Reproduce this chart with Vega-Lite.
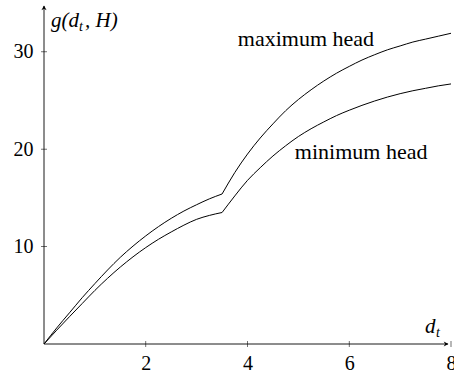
{
  "$schema": "https://vega.github.io/schema/vega-lite/v6.json",
  "autosize": "none",
  "width": 407,
  "height": 338,
  "padding": {"left": 44, "top": 6, "right": 3, "bottom": 28},
  "background": "white",
  "config": {
    "font": "Liberation Serif",
    "view": {"stroke": null},
    "axis": {"domain": false, "ticks": false, "grid": false, "labelFont": "Liberation Serif", "labelFontSize": 20, "labelColor": "black", "title": null}
  },
  "datasets": {
    "curves": [
      {"series": "max1", "x": 0, "g": 0},
      {"series": "max1", "x": 0.25, "g": 1.65},
      {"series": "max1", "x": 0.5, "g": 3.2},
      {"series": "max1", "x": 0.75, "g": 4.75},
      {"series": "max1", "x": 1, "g": 6.2},
      {"series": "max1", "x": 1.25, "g": 7.6},
      {"series": "max1", "x": 1.5, "g": 8.9},
      {"series": "max1", "x": 1.75, "g": 10.05},
      {"series": "max1", "x": 2, "g": 11.1},
      {"series": "max1", "x": 2.25, "g": 12.05},
      {"series": "max1", "x": 2.5, "g": 12.9},
      {"series": "max1", "x": 2.75, "g": 13.65},
      {"series": "max1", "x": 3, "g": 14.3},
      {"series": "max1", "x": 3.25, "g": 14.9},
      {"series": "max1", "x": 3.5, "g": 15.4},
      {"series": "max2", "x": 3.5, "g": 15.4},
      {"series": "max2", "x": 3.75, "g": 17.6},
      {"series": "max2", "x": 4, "g": 19.5},
      {"series": "max2", "x": 4.25, "g": 21.15},
      {"series": "max2", "x": 4.5, "g": 22.6},
      {"series": "max2", "x": 4.75, "g": 23.95},
      {"series": "max2", "x": 5, "g": 25.1},
      {"series": "max2", "x": 5.25, "g": 26.1},
      {"series": "max2", "x": 5.5, "g": 27.0},
      {"series": "max2", "x": 5.75, "g": 27.8},
      {"series": "max2", "x": 6, "g": 28.5},
      {"series": "max2", "x": 6.25, "g": 29.15},
      {"series": "max2", "x": 6.5, "g": 29.7},
      {"series": "max2", "x": 6.75, "g": 30.2},
      {"series": "max2", "x": 7, "g": 30.6},
      {"series": "max2", "x": 7.25, "g": 31.0},
      {"series": "max2", "x": 7.5, "g": 31.3},
      {"series": "max2", "x": 7.75, "g": 31.6},
      {"series": "max2", "x": 8, "g": 31.9},
      {"series": "min1", "x": 0, "g": 0},
      {"series": "min1", "x": 0.25, "g": 1.42},
      {"series": "min1", "x": 0.5, "g": 2.8},
      {"series": "min1", "x": 0.75, "g": 4.15},
      {"series": "min1", "x": 1, "g": 5.5},
      {"series": "min1", "x": 1.25, "g": 6.75},
      {"series": "min1", "x": 1.5, "g": 7.9},
      {"series": "min1", "x": 1.75, "g": 8.95},
      {"series": "min1", "x": 2, "g": 9.9},
      {"series": "min1", "x": 2.25, "g": 10.75},
      {"series": "min1", "x": 2.5, "g": 11.5},
      {"series": "min1", "x": 2.75, "g": 12.2},
      {"series": "min1", "x": 3, "g": 12.8},
      {"series": "min1", "x": 3.25, "g": 13.2},
      {"series": "min1", "x": 3.5, "g": 13.5},
      {"series": "min2", "x": 3.5, "g": 13.5},
      {"series": "min2", "x": 3.75, "g": 15.2},
      {"series": "min2", "x": 4, "g": 16.8},
      {"series": "min2", "x": 4.25, "g": 18.1},
      {"series": "min2", "x": 4.5, "g": 19.3},
      {"series": "min2", "x": 4.75, "g": 20.35},
      {"series": "min2", "x": 5, "g": 21.3},
      {"series": "min2", "x": 5.25, "g": 22.1},
      {"series": "min2", "x": 5.5, "g": 22.8},
      {"series": "min2", "x": 5.75, "g": 23.45},
      {"series": "min2", "x": 6, "g": 24.0},
      {"series": "min2", "x": 6.25, "g": 24.5},
      {"series": "min2", "x": 6.5, "g": 24.95},
      {"series": "min2", "x": 6.75, "g": 25.35},
      {"series": "min2", "x": 7, "g": 25.7},
      {"series": "min2", "x": 7.25, "g": 26.0},
      {"series": "min2", "x": 7.5, "g": 26.25},
      {"series": "min2", "x": 7.75, "g": 26.5},
      {"series": "min2", "x": 8, "g": 26.7}
    ],
    "xticks": [{"t": 2}, {"t": 4}, {"t": 6}, {"t": 8}],
    "yticks": [{"t": 10}, {"t": 20}, {"t": 30}],
    "one": [{}]
  },
  "layer": [
    {
      "data": {"name": "curves"},
      "mark": {"type": "line", "color": "black", "strokeWidth": 1, "interpolate": "monotone", "clip": false},
      "encoding": {
        "x": {"field": "x", "type": "quantitative", "scale": {"domain": [0, 8], "nice": false}, "axis": {"values": [2, 4, 6, 8], "labelPadding": 9, "labelFlush": false, "labelOverlap": false, "labelBound": false}},
        "y": {"field": "g", "type": "quantitative", "scale": {"domain": [0, 34.7], "nice": false}, "axis": {"values": [10, 20, 30], "labelPadding": 11}},
        "detail": {"field": "series"}
      }
    },
    {
      "data": {"name": "one"},
      "mark": {"type": "rule", "color": "black", "strokeWidth": 0.9},
      "encoding": {"x": {"datum": 0}, "x2": {"datum": 7.94}, "y": {"datum": 0}}
    },
    {
      "data": {"name": "one"},
      "mark": {"type": "rule", "color": "black", "strokeWidth": 0.9},
      "encoding": {"x": {"datum": 0}, "y": {"datum": 0}, "y2": {"datum": 34.7}}
    },
    {
      "data": {"name": "one"},
      "mark": {"type": "point", "filled": true, "color": "black", "opacity": 1, "strokeWidth": 0, "size": 90, "shape": "M0,0L-1,-0.55L-0.7,0L-1,0.55Z"},
      "encoding": {"x": {"datum": 7.95}, "y": {"datum": 0}}
    },
    {
      "data": {"name": "one"},
      "mark": {"type": "point", "filled": true, "color": "black", "opacity": 1, "strokeWidth": 0, "size": 90, "angle": -90, "shape": "M0,0L-1,-0.55L-0.7,0L-1,0.55Z"},
      "encoding": {"x": {"datum": 0}, "y": {"datum": 34.75}}
    },
    {
      "data": {"name": "xticks"},
      "mark": {"type": "tick", "orient": "vertical", "color": "black", "size": 6, "thickness": 0.8},
      "encoding": {"x": {"field": "t", "type": "quantitative"}, "y": {"datum": 0}}
    },
    {
      "data": {"name": "yticks"},
      "mark": {"type": "tick", "orient": "horizontal", "color": "black", "size": 6, "thickness": 0.8},
      "encoding": {"y": {"field": "t", "type": "quantitative"}, "x": {"datum": 0}}
    },
    {
      "data": {"name": "one"},
      "mark": {"type": "text", "text": "maximum head", "font": "Liberation Serif", "fontSize": 22, "align": "left", "baseline": "alphabetic", "color": "black"},
      "encoding": {"x": {"datum": 3.81}, "y": {"datum": 30.6}}
    },
    {
      "data": {"name": "one"},
      "mark": {"type": "text", "text": "minimum head", "font": "Liberation Serif", "fontSize": 22, "align": "left", "baseline": "alphabetic", "color": "black"},
      "encoding": {"x": {"datum": 4.93}, "y": {"datum": 19.0}}
    },
    {
      "data": {"name": "one"},
      "mark": {"type": "text", "text": "g(d", "font": "Liberation Serif", "fontSize": 21, "fontStyle": "italic", "align": "left", "baseline": "alphabetic", "color": "black", "dx": 7, "dy": 21},
      "encoding": {"x": {"datum": 0}, "y": {"datum": 34.7}}
    },
    {
      "data": {"name": "one"},
      "mark": {"type": "text", "text": "t", "font": "Liberation Serif", "fontSize": 14, "fontStyle": "italic", "align": "left", "baseline": "alphabetic", "color": "black", "dx": 35, "dy": 25},
      "encoding": {"x": {"datum": 0}, "y": {"datum": 34.7}}
    },
    {
      "data": {"name": "one"},
      "mark": {"type": "text", "text": ", H)", "font": "Liberation Serif", "fontSize": 21, "fontStyle": "italic", "align": "left", "baseline": "alphabetic", "color": "black", "dx": 41, "dy": 21},
      "encoding": {"x": {"datum": 0}, "y": {"datum": 34.7}}
    },
    {
      "data": {"name": "one"},
      "mark": {"type": "text", "text": "d", "font": "Liberation Serif", "fontSize": 21, "fontStyle": "italic", "align": "left", "baseline": "alphabetic", "color": "black", "dx": -26, "dy": -11},
      "encoding": {"x": {"datum": 8}, "y": {"datum": 0}}
    },
    {
      "data": {"name": "one"},
      "mark": {"type": "text", "text": "t", "font": "Liberation Serif", "fontSize": 14, "fontStyle": "italic", "align": "left", "baseline": "alphabetic", "color": "black", "dx": -15, "dy": -7},
      "encoding": {"x": {"datum": 8}, "y": {"datum": 0}}
    }
  ]
}
